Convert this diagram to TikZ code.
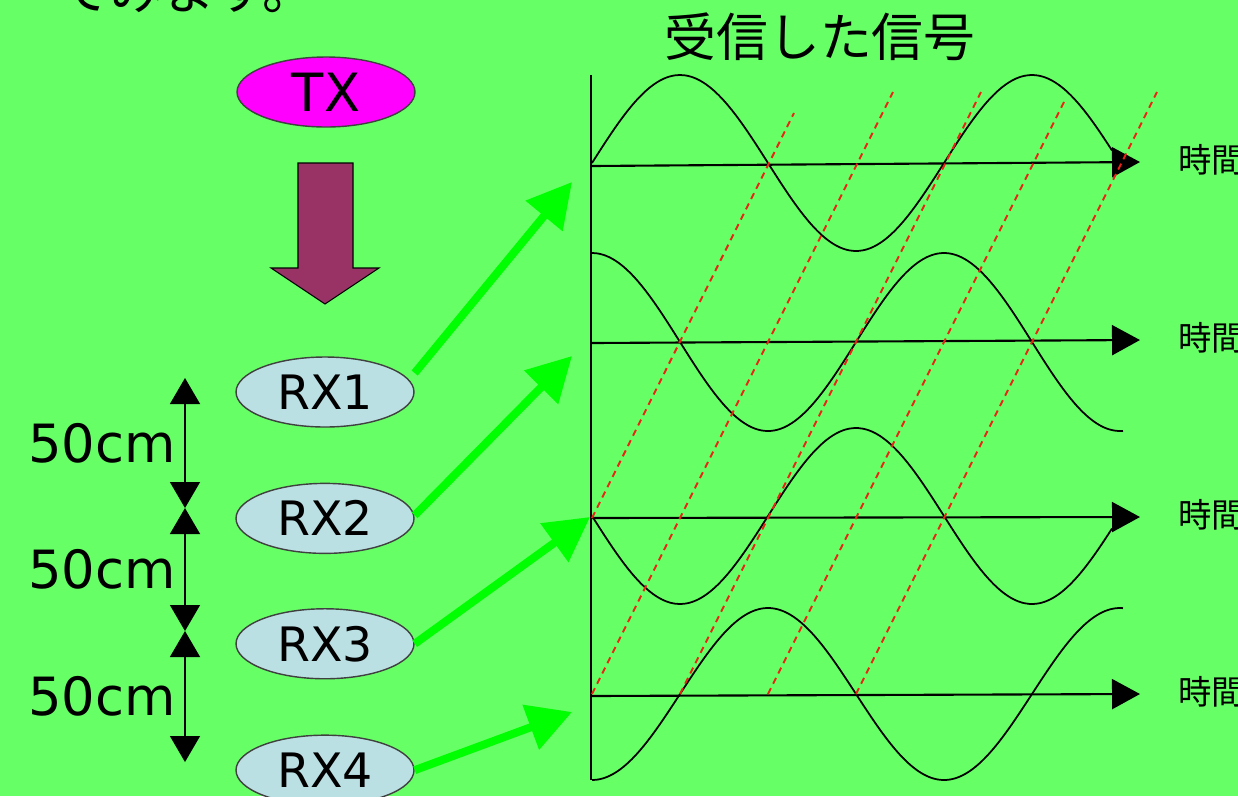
\documentclass[tikz,border=0pt]{standalone}
\usepackage{fontspec}
\setmainfont{DejaVu Sans}
\newfontfamily\jpfont{Noto Sans CJK JP}
\usepackage{tikz}
\usetikzlibrary{arrows.meta, positioning, shapes.geometric}

\definecolor{bggreen}{RGB}{102,255,102}
\definecolor{txpink}{RGB}{255,0,255}
\definecolor{rxblue}{RGB}{187,224,228}
\definecolor{plum}{RGB}{153,51,102}
\definecolor{raygreen}{RGB}{0,255,0}
\definecolor{phasered}{RGB}{235,35,20}

\begin{document}
\begin{tikzpicture}[
  x=0.02cm, y=0.02cm,
  station/.style={ellipse, draw=black!75, line width=0.8pt, inner sep=0pt,
                  minimum width=3.56cm, minimum height=1.4cm,
                  font=\fontsize{27}{31}\selectfont},
  dimlbl/.style={font=\fontsize{30}{34}\selectfont, inner sep=5pt},
  timelbl/.style={anchor=west, inner sep=0pt, font=\jpfont\fontsize{19}{22}\selectfont},
  ray/.style={-{Triangle[length=0.88cm, width=0.92cm]}, line width=0.16cm, raygreen},
  axisarr/.style={-{Triangle[length=0.56cm, width=0.6cm]}, line width=1.2pt},
  dimarr/.style={{Triangle[length=0.52cm, width=0.6cm]}-{Triangle[length=0.52cm, width=0.6cm]},
                 line width=0.8pt},
  wave/.style={line width=1pt},
  phase/.style={phasered, line width=1.1pt, dash pattern=on 0.13cm off 0.1cm},
]
\path[use as bounding box] (0,0) rectangle (1238,-796);
\clip (0,0) rectangle (1238,-796);
\fill[bggreen] (0,0) rectangle (1238,-796);

\node[anchor=base west, inner sep=0pt, font=\jpfont\fontsize{30}{34}\selectfont] (intro) at (57,-9) {てみます。};
\node[font=\jpfont\fontsize{29.5}{34}\selectfont] (title) at (820,-37) {受信した信号};

\node[station, fill=txpink, font=\fontsize{30}{34}\selectfont] (tx) at (326,-92) {TX};
\draw[fill=plum, line width=0.6pt] (298,-163) -- (353,-163) -- (353,-268) -- (379,-268)
  -- (325,-304) -- (271,-268) -- (298,-268) -- cycle;

\node[station, fill=rxblue] (rx1) at (325,-392) {RX1};
\node[station, fill=rxblue, below=1.1cm of rx1] (rx2) {RX2};
\node[station, fill=rxblue, below=1.08cm of rx2] (rx3) {RX3};
\node[station, fill=rxblue, below=1.1cm of rx3] (rx4) {RX4};

\coordinate (d0) at (185,-378);
\coordinate (d1) at (185,-508);
\coordinate (d2) at (185,-631);
\coordinate (d3) at (185,-762);
\draw[dimarr] (d0) -- node[dimlbl, left] {50cm} (d1);
\draw[dimarr] (d1) -- node[dimlbl, left] {50cm} (d2);
\draw[dimarr] (d2) -- node[dimlbl, left] {50cm} (d3);

\coordinate (vtop) at (591,-75);
\coordinate (vbot) at (591,-780);
\draw[line width=1.1pt] (vtop) -- (vbot);

\foreach \i/\ya/\yb/\yt in {1/166/162/160, 2/343/340/338, 3/518/517/515, 4/696/694/692} {
  \coordinate (o\i) at (592,-\ya);
  \coordinate (e\i) at (1140,-\yb);
  \draw[axisarr] (o\i) -- (e\i);
  \node[timelbl] (time\i) at (1178,-\yt) {時間};
}

\draw[wave] plot[domain=592:1112, samples=120, smooth] (\x, {-163+88*sin((\x-592)/352*360)});
\draw[wave] plot[domain=592:1123, samples=120, smooth] (\x, {-342+89*cos((\x-592)/352*360)});
\draw[wave] plot[domain=592:1112, samples=120, smooth] (\x, {-516-88*sin((\x-592)/352*360)});
\draw[wave] plot[domain=592:1123, samples=120, smooth] (\x, {-694-86*cos((\x-592)/352*360)});

\foreach \xa/\ya/\xb/\yb in {592/518/794/113, 592/694/893/92, 680/694/981/92,
                             768/694/1066/98, 856/694/1157/92}
  \draw[phase] (\xa,-\ya) -- (\xb,-\yb);

\coordinate (hit1) at (572,-182);
\coordinate (hit2) at (572,-356);
\coordinate (hit3) at (590,-517);
\coordinate (hit4) at (572,-712);
\draw[ray] ([yshift=0.38cm]rx1.east) -- (hit1);
\draw[ray] ([yshift=0.06cm]rx2.east) -- (hit2);
\draw[ray] (rx3.east) -- (hit3);
\draw[ray] (rx4.east) -- (hit4);
\end{tikzpicture}
\end{document}
